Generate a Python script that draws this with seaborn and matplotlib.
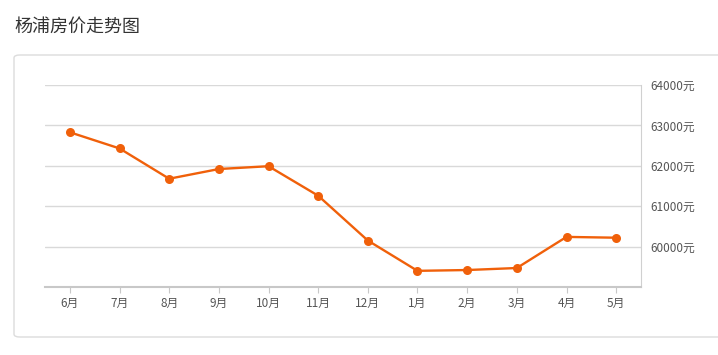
import matplotlib
matplotlib.use('Agg')
import matplotlib.pyplot as plt
import seaborn as sns
import pandas as pd
from matplotlib.patches import FancyBboxPatch

months = ['6月', '7月', '8月', '9月', '10月', '11月', '12月', '1月', '2月', '3月', '4月', '5月']
prices = [62830, 62430, 61680, 61920, 61990, 61260, 60150, 59400, 59420, 59470, 60240, 60220]
yticks = [60000, 61000, 62000, 63000, 64000]

sns.set_style("white")
plt.rcParams['font.family'] = ['Noto Sans CJK SC', 'DejaVu Sans']

df = pd.DataFrame({'month': months, 'price': prices})
df['pos'] = range(len(months))

fig = plt.figure(figsize=(7.18, 3.55), dpi=100)
# panel box, behind the axes
fig.patches.append(FancyBboxPatch((14 / 718, 18 / 355), 720 / 718, 282 / 355,
                                  boxstyle="round,pad=0,rounding_size=0.008",
                                  transform=fig.transFigure, facecolor='white',
                                  edgecolor='#dcdcdc', lw=1, zorder=-5))
fig.text(14 / 718, 1 - 27 / 355, '杨浦房价走势图', fontsize=13, color='#333333', va='center')

ax = fig.add_axes([45 / 718, 1 - 287 / 355, 596 / 718, 202 / 355])
ax.set_zorder(2)
ax.patch.set_alpha(0)
sns.lineplot(data=df, x='pos', y='price', color='#f0600a', lw=1.7, marker='o',
             markersize=6.5, markeredgewidth=0, ax=ax)

ax.set_xlim(-0.5, 11.5)
ax.set_ylim(59000, 64000)
ax.set_xticks(df['pos'])
ax.set_xticklabels(months)
ax.set_yticks(yticks)
ax.set_yticklabels([f'{v}元' for v in yticks])
ax.yaxis.tick_right()
ax.grid(axis='y', color='#d9d9d9', lw=1)
ax.set_xlabel('')
ax.set_ylabel('')
for s in ['top', 'left']:
    ax.spines[s].set_visible(False)
ax.spines['right'].set_color('#d0d0d0')
ax.spines['bottom'].set_color('#c8c8c8')
ax.spines['bottom'].set_linewidth(1.5)
ax.tick_params(axis='x', length=4, color='#c8c8c8', labelsize=8.5, labelcolor='#555555', pad=3, bottom=True)
ax.tick_params(axis='y', length=0, labelsize=8.5, labelcolor='#555555', pad=6.5)

fig.savefig('out.png', dpi=100)
